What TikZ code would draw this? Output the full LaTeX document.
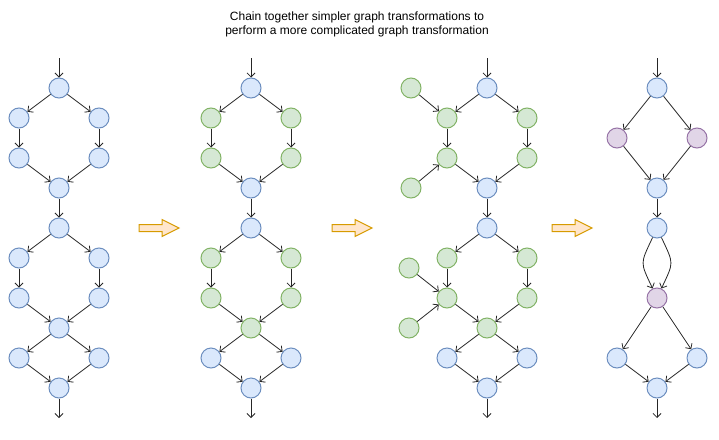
\documentclass[tikz,border=0pt]{standalone}
\usepackage{fontspec}
\setmainfont{Liberation Sans}
\usetikzlibrary{arrows.meta, positioning}
\definecolor{bluefill}{HTML}{DAE8FC}
\definecolor{blueline}{HTML}{6C8EBF}
\definecolor{greenfill}{HTML}{D5E8D4}
\definecolor{greenline}{HTML}{82B366}
\definecolor{purplefill}{HTML}{E1D5E7}
\definecolor{purpleline}{HTML}{9673A6}
\definecolor{orangefill}{HTML}{FFE6CC}
\definecolor{orangeline}{HTML}{D79B00}

\begin{document}
\begin{tikzpicture}[x=1pt, y=-1pt,
    bnode/.style={circle, draw=blueline, fill=bluefill, line width=1pt, minimum size=20pt, inner sep=0pt},
    gnode/.style={circle, draw=greenline, fill=greenfill, line width=1pt, minimum size=20pt, inner sep=0pt},
    pnode/.style={circle, draw=purpleline, fill=purplefill, line width=1pt, minimum size=20pt, inner sep=0pt},
    edge/.style={draw=black!85, line width=0.8pt, -{Straight Barb[length=4pt, width=8pt]}},
    bigarrow/.style={draw=orangeline, fill=orangefill, line width=1pt, line join=miter}]
        \useasboundingbox (0,0) rectangle (719,439);
        % Title
        \node[align=center, font=\fontsize{12}{14}\selectfont] (title) at (357,24)
            {Chain together simpler graph transformations to\\perform a more complicated graph transformation};

        % First graph
        \coordinate (ain) at (59,58);
        \node[bnode] (a1) at (59,88) {};
        \node[bnode] (a2) at (19,118) {};
        \node[bnode] (a3) at (99,118) {};
        \node[bnode] (a4) at (19,158) {};
        \node[bnode] (a5) at (99,158) {};
        \node[bnode] (a6) at (59,188) {};
        \node[bnode] (a7) at (59,228) {};
        \node[bnode] (a8) at (19,258) {};
        \node[bnode] (a9) at (99,258) {};
        \node[bnode] (a10) at (19,298) {};
        \node[bnode] (a11) at (99,298) {};
        \node[bnode] (a12) at (59,328) {};
        \node[bnode] (a13) at (19,358) {};
        \node[bnode] (a14) at (99,358) {};
        \node[bnode] (a15) at (59,388) {};
        \coordinate (aout) at (59,418);
        \draw[edge] (ain) -- (a1);
        \draw[edge] (a1) -- (a2);
        \draw[edge] (a1) -- (a3);
        \draw[edge] (a2) -- (a4);
        \draw[edge] (a3) -- (a5);
        \draw[edge] (a4) -- (a6);
        \draw[edge] (a5) -- (a6);
        \draw[edge] (a6) -- (a7);
        \draw[edge] (a7) -- (a8);
        \draw[edge] (a7) -- (a9);
        \draw[edge] (a8) -- (a10);
        \draw[edge] (a9) -- (a11);
        \draw[edge] (a10) -- (a12);
        \draw[edge] (a11) -- (a12);
        \draw[edge] (a12) -- (a13);
        \draw[edge] (a12) -- (a14);
        \draw[edge] (a13) -- (a15);
        \draw[edge] (a14) -- (a15);
        \draw[edge] (a15) -- (aout);

        % Second graph
        \coordinate (bin) at (251,58);
        \node[bnode] (b1) at (251,88) {};
        \node[gnode] (b2) at (211,118) {};
        \node[gnode] (b3) at (291,118) {};
        \node[gnode] (b4) at (211,158) {};
        \node[gnode] (b5) at (291,158) {};
        \node[bnode] (b6) at (251,188) {};
        \node[bnode] (b7) at (251,228) {};
        \node[gnode] (b8) at (211,258) {};
        \node[gnode] (b9) at (291,258) {};
        \node[gnode] (b10) at (211,298) {};
        \node[gnode] (b11) at (291,298) {};
        \node[gnode] (b12) at (251,328) {};
        \node[bnode] (b13) at (211,358) {};
        \node[bnode] (b14) at (291,358) {};
        \node[bnode] (b15) at (251,388) {};
        \coordinate (bout) at (251,418);
        \draw[edge] (bin) -- (b1);
        \draw[edge] (b1) -- (b2);
        \draw[edge] (b1) -- (b3);
        \draw[edge] (b2) -- (b4);
        \draw[edge] (b3) -- (b5);
        \draw[edge] (b4) -- (b6);
        \draw[edge] (b5) -- (b6);
        \draw[edge] (b6) -- (b7);
        \draw[edge] (b7) -- (b8);
        \draw[edge] (b7) -- (b9);
        \draw[edge] (b8) -- (b10);
        \draw[edge] (b9) -- (b11);
        \draw[edge] (b10) -- (b12);
        \draw[edge] (b11) -- (b12);
        \draw[edge] (b12) -- (b13);
        \draw[edge] (b12) -- (b14);
        \draw[edge] (b13) -- (b15);
        \draw[edge] (b14) -- (b15);
        \draw[edge] (b15) -- (bout);

        % Third graph
        \coordinate (cin) at (487,58);
        \node[bnode] (c1) at (487,88) {};
        \node[gnode] (c2) at (447,118) {};
        \node[gnode] (c3) at (527,118) {};
        \node[gnode] (c4) at (447,158) {};
        \node[gnode] (c5) at (527,158) {};
        \node[bnode] (c6) at (487,188) {};
        \node[bnode] (c7) at (487,228) {};
        \node[gnode] (c8) at (447,258) {};
        \node[gnode] (c9) at (527,258) {};
        \node[gnode] (c10) at (447,298) {};
        \node[gnode] (c11) at (527,298) {};
        \node[gnode] (c12) at (487,328) {};
        \node[bnode] (c13) at (447,358) {};
        \node[bnode] (c14) at (527,358) {};
        \node[bnode] (c15) at (487,388) {};
        \coordinate (cout) at (487,418);
        % Extra inputs
        \node[gnode] (c16) at (411,88) {};
        \node[gnode] (c17) at (411,188) {};
        \node[gnode] (c18) at (409,268) {};
        \node[gnode] (c19) at (409,328) {};
        \draw[edge] (cin) -- (c1);
        \draw[edge] (c1) -- (c2);
        \draw[edge] (c1) -- (c3);
        \draw[edge] (c2) -- (c4);
        \draw[edge] (c3) -- (c5);
        \draw[edge] (c4) -- (c6);
        \draw[edge] (c5) -- (c6);
        \draw[edge] (c6) -- (c7);
        \draw[edge] (c7) -- (c8);
        \draw[edge] (c7) -- (c9);
        \draw[edge] (c8) -- (c10);
        \draw[edge] (c9) -- (c11);
        \draw[edge] (c10) -- (c12);
        \draw[edge] (c11) -- (c12);
        \draw[edge] (c12) -- (c13);
        \draw[edge] (c12) -- (c14);
        \draw[edge] (c13) -- (c15);
        \draw[edge] (c14) -- (c15);
        \draw[edge] (c15) -- (cout);
        \draw[edge] (c16) -- (c2);
        \draw[edge] (c17) -- (c4);
        \draw[edge] (c18) -- (c10);
        \draw[edge] (c19) -- (c10);

        % Fourth graph
        \coordinate (din) at (657,58);
        \node[bnode] (d1) at (657,88) {};
        \node[pnode] (d2) at (617,138) {};
        \node[pnode] (d3) at (697,138) {};
        \node[bnode] (d4) at (657,188) {};
        \node[bnode] (d5) at (657,228) {};
        \node[pnode] (d6) at (657,298) {};
        \node[bnode] (d7) at (617,358) {};
        \node[bnode] (d8) at (697,358) {};
        \node[bnode] (d9) at (657,388) {};
        \coordinate (dout) at (657,418);
        \draw[edge] (din) -- (d1);
        \draw[edge] (d1) -- (d2);
        \draw[edge] (d1) -- (d3);
        \draw[edge] (d2) -- (d4);
        \draw[edge] (d3) -- (d4);
        \draw[edge] (d4) -- (d5);
        \draw[edge] (d5) to[out=245, in=115, looseness=1.5] (d6);
        \draw[edge] (d5) to[out=-65, in=65, looseness=1.5] (d6);
        \draw[edge] (d6) -- (d7);
        \draw[edge] (d6) -- (d8);
        \draw[edge] (d7) -- (d9);
        \draw[edge] (d8) -- (d9);
        \draw[edge] (d9) -- (dout);

        % Block arrows between graphs
        \draw[bigarrow] (139,224.5) -- (162,224.5) -- (162,219.5) -- (179,228) -- (162,236.5) -- (162,231.5) -- (139,231.5) -- cycle;
        \draw[bigarrow] (332,224.5) -- (355,224.5) -- (355,219.5) -- (372,228) -- (355,236.5) -- (355,231.5) -- (332,231.5) -- cycle;
        \draw[bigarrow] (552,224.5) -- (575,224.5) -- (575,219.5) -- (592,228) -- (575,236.5) -- (575,231.5) -- (552,231.5) -- cycle;
    \end{tikzpicture}
\end{document}
